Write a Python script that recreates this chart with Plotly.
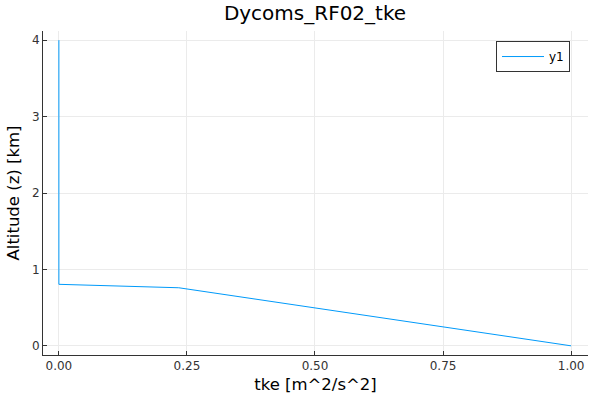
import plotly.graph_objects as go

# perfil de tke
tke = [1.0, 0.234, 0.0, 0.0]
altitude_km = [0.0, 0.76, 0.805, 4.0]
x_ticks = [0.0, 0.25, 0.5, 0.75, 1.0]
x_tick_labels = ['0.00', '0.25', '0.50', '0.75', '1.00']
y_ticks = [0, 1, 2, 3, 4]

fig = go.Figure()
fig.add_trace(go.Scatter(
    name='y1',
    x=tke,
    y=altitude_km,
    mode='lines',
    line=dict(color='#009AFA', width=1),
))

eixo = dict(
    showline=True, linecolor='#333333', linewidth=1, automargin=False,
    mirror=False, ticks='inside', ticklen=4, tickcolor='#333333',
    showgrid=True, gridcolor='#EBEBEB', gridwidth=1, zeroline=False,
    tickfont=dict(size=12, color='#333333'),
)

fig.update_layout(
    width=600, height=400,
    paper_bgcolor='white', plot_bgcolor='white',
    font=dict(family='DejaVu Sans', color='black'),
    title=dict(text='Dycoms_RF02_tke', x=0.525, xanchor='center', y=0.968, yanchor='middle',
               font=dict(size=20), automargin=False),
    margin=dict(l=43, r=12, t=31, b=45),
    xaxis=dict(eixo, range=[-0.031, 1.033], tickvals=x_ticks, ticktext=x_tick_labels,
               title=dict(text='tke [m^2/s^2]', font=dict(size=16.5), standoff=6)),
    yaxis=dict(eixo, range=[-0.12, 4.12], tickvals=y_ticks,
               title=dict(text='Altitude (z) [km]', font=dict(size=16.5), standoff=8)),
    legend=dict(x=0.967, xanchor='right', y=0.969, yanchor='top',
                bordercolor='#333333', borderwidth=1, bgcolor='white',
                font=dict(size=12), itemwidth=42, tracegroupgap=0),
    showlegend=True,
)

# sem margem do body para a figura ficar em (0, 0)
fig.write_html('out.html', config={'displayModeBar': False},
               post_script="document.body.style.margin='0';")
